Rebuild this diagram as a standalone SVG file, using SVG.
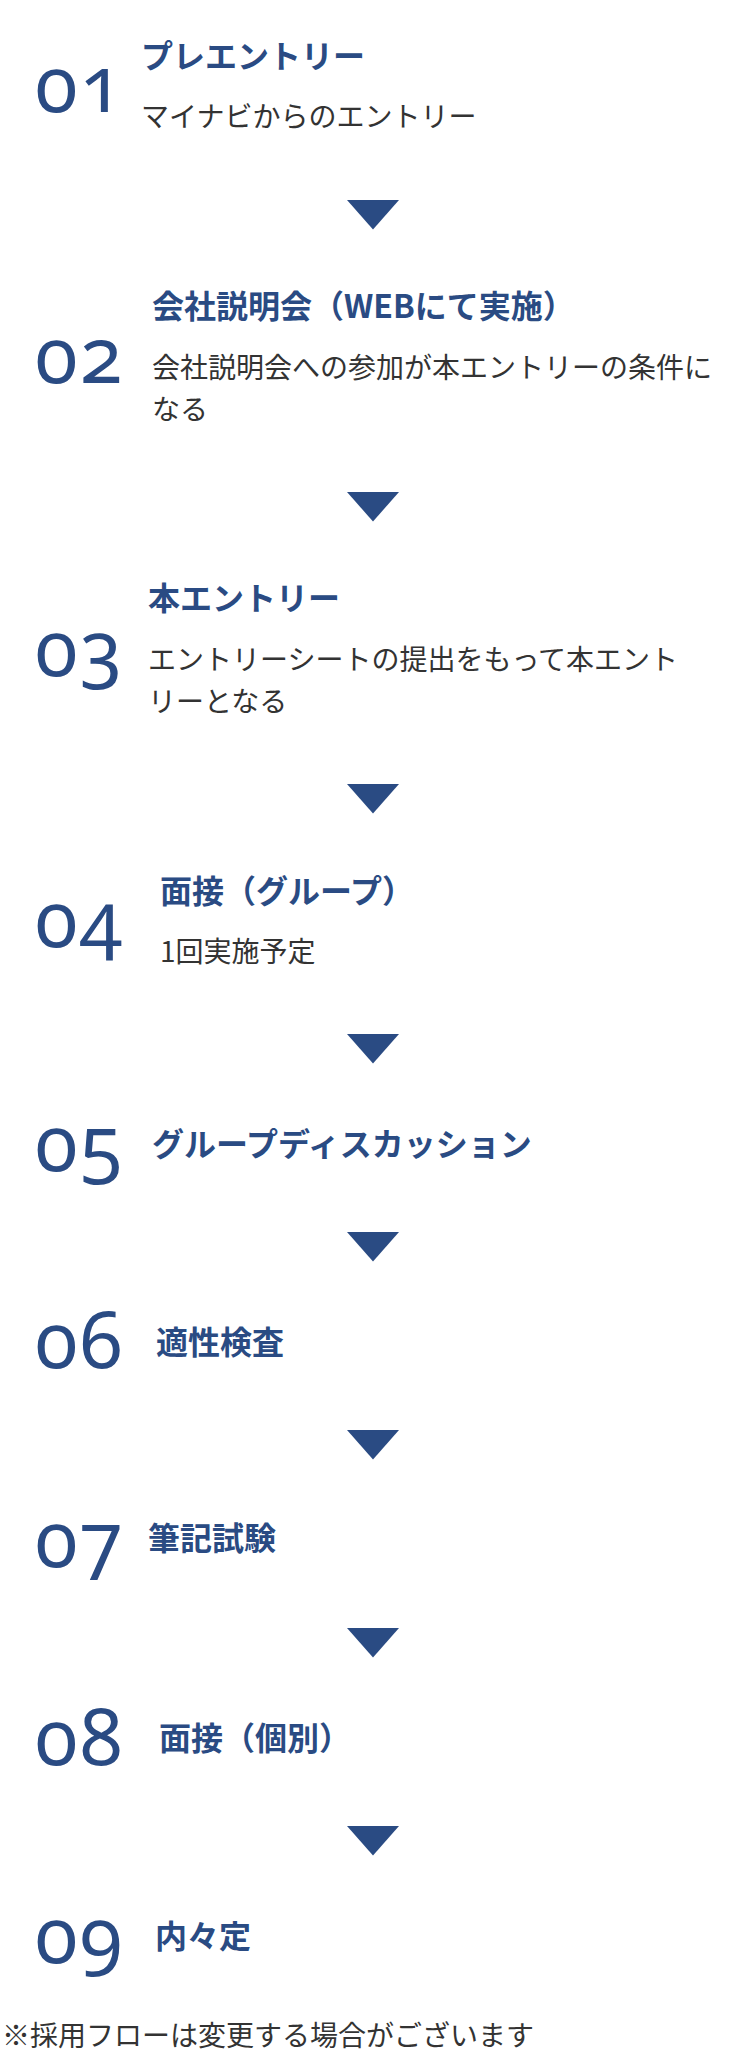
<svg xmlns="http://www.w3.org/2000/svg" width="746" height="2056" viewBox="0 0 746 2056">
<style>
.num{font-family:"Noto Sans",sans-serif;font-weight:400;font-size:78px;letter-spacing:2px;fill:#2a4b83;font-variant-numeric:oldstyle-nums;font-feature-settings:"onum" 1;}
.ttl{font-family:"Noto Sans CJK JP","Noto Sans CJK SC",sans-serif;font-weight:700;font-size:32px;fill:#2a4b83;}
.dsc{font-family:"Noto Sans CJK JP","Noto Sans CJK SC",sans-serif;font-weight:400;font-size:28px;fill:#333333;}
.arr{fill:#2a4b83;}
</style>
<rect width="746" height="2056" fill="#ffffff"/>
<g id="step01">
<text class="num" x="35" y="112">01</text>
<text class="ttl" x="141" y="68">プレエントリー</text>
<text class="dsc" x="141" y="127">マイナビからのエントリー</text>
</g>
<g id="step02">
<text class="num" x="35" y="383">02</text>
<text class="ttl" x="152" y="318">会社説明会（WEBにて実施）</text>
<text class="dsc" x="152" y="378">会社説明会への参加が本エントリーの条件に</text>
<text class="dsc" x="152" y="420">なる</text>
</g>
<g id="step03">
<text class="num" x="35" y="676">03</text>
<text class="ttl" x="148" y="610">本エントリー</text>
<text class="dsc" x="148" y="670">エントリーシートの提出をもって本エント</text>
<text class="dsc" x="148" y="712">リーとなる</text>
</g>
<g id="step04">
<text class="num" x="35" y="947">04</text>
<text class="ttl" x="160" y="903">面接（グループ）</text>
<text class="dsc" x="160" y="962">1回実施予定</text>
</g>
<g id="step05">
<text class="num" x="35" y="1171">05</text>
<text class="ttl" x="152" y="1156">グループディスカッション</text>
</g>
<g id="step06">
<text class="num" x="35" y="1368">06</text>
<text class="ttl" x="156" y="1354">適性検査</text>
</g>
<g id="step07">
<text class="num" x="35" y="1567">07</text>
<text class="ttl" x="148" y="1550">筆記試験</text>
</g>
<g id="step08">
<text class="num" x="35" y="1765">08</text>
<text class="ttl" x="159" y="1750">面接（個別）</text>
</g>
<g id="step09">
<text class="num" x="35" y="1963">09</text>
<text class="ttl" x="155" y="1948">内々定</text>
</g>
<g id="connectors">
<polygon class="arr" points="347,200 399,200 373,229.5"/>
<polygon class="arr" points="347,492 399,492 373,521.5"/>
<polygon class="arr" points="347,784 399,784 373,813.5"/>
<polygon class="arr" points="347,1034 399,1034 373,1063.5"/>
<polygon class="arr" points="347,1232 399,1232 373,1261.5"/>
<polygon class="arr" points="347,1430 399,1430 373,1459.5"/>
<polygon class="arr" points="347,1628 399,1628 373,1657.5"/>
<polygon class="arr" points="347,1826 399,1826 373,1855.5"/>
</g>
<g id="note">
<text class="dsc" x="2" y="2046">※採用フローは変更する場合がございます</text>
</g>
</svg>
